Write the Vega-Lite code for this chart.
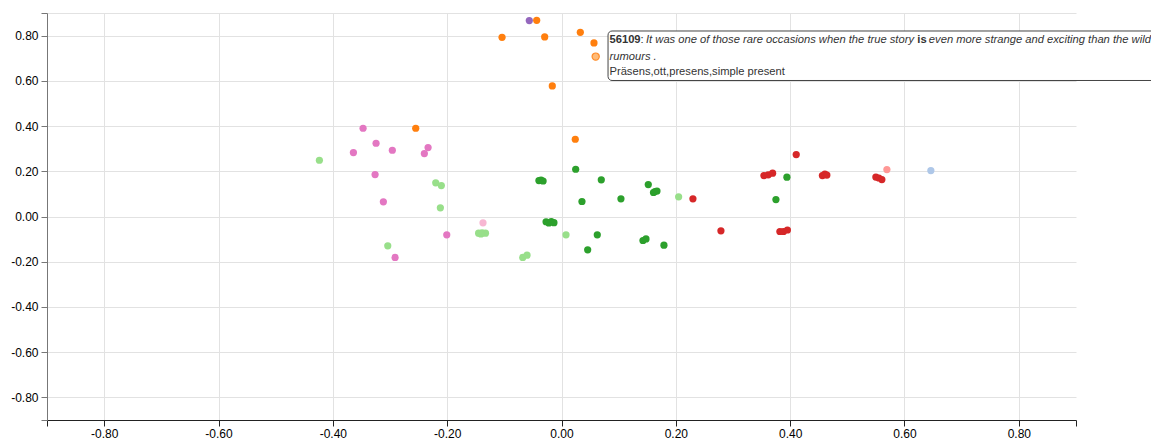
{
  "$schema": "https://vega.github.io/schema/vega-lite/v6.json",
  "width": 1029,
  "height": 407,
  "autosize": {"type": "none"},
  "padding": {"left": 47, "top": 13, "right": 75, "bottom": 19},
  "background": "white",
  "config": {"view": {"stroke": null}},
  "datasets": {
    "points": [
      {"x": -0.0563, "y": 0.8663, "g": "E"},
      {"x": -0.0434, "y": 0.8676, "g": "B"},
      {"x": -0.104, "y": 0.7925, "g": "B"},
      {"x": -0.0294, "y": 0.794, "g": "B"},
      {"x": 0.0329, "y": 0.8146, "g": "B"},
      {"x": 0.0568, "y": 0.7677, "g": "B"},
      {"x": -0.0161, "y": 0.5777, "g": "B"},
      {"x": -0.255, "y": 0.3903, "g": "B"},
      {"x": 0.0241, "y": 0.3417, "g": "B"},
      {"x": -0.3471, "y": 0.3903, "g": "G"},
      {"x": -0.3244, "y": 0.324, "g": "G"},
      {"x": -0.364, "y": 0.2829, "g": "G"},
      {"x": -0.2959, "y": 0.293, "g": "G"},
      {"x": -0.2334, "y": 0.305, "g": "G"},
      {"x": -0.2399, "y": 0.2785, "g": "G"},
      {"x": -0.3261, "y": 0.1856, "g": "G"},
      {"x": -0.3116, "y": 0.065, "g": "G"},
      {"x": -0.2007, "y": -0.0809, "g": "G"},
      {"x": -0.2911, "y": -0.1812, "g": "G"},
      {"x": -0.1373, "y": -0.0278, "g": "H"},
      {"x": -0.4235, "y": 0.2488, "g": "D"},
      {"x": -0.22, "y": 0.149, "g": "D"},
      {"x": -0.2102, "y": 0.137, "g": "D"},
      {"x": -0.2119, "y": 0.0385, "g": "D"},
      {"x": -0.3039, "y": -0.1295, "g": "D"},
      {"x": -0.145, "y": -0.0738, "g": "D"},
      {"x": -0.139, "y": -0.072, "g": "D"},
      {"x": -0.133, "y": -0.0738, "g": "D"},
      {"x": -0.141, "y": -0.077, "g": "D"},
      {"x": 0.0079, "y": -0.0809, "g": "D"},
      {"x": -0.0678, "y": -0.1812, "g": "D"},
      {"x": -0.0603, "y": -0.171, "g": "D"},
      {"x": 0.2049, "y": 0.0871, "g": "D"},
      {"x": 0.0248, "y": 0.209, "g": "C"},
      {"x": -0.0395, "y": 0.159, "g": "C"},
      {"x": -0.0358, "y": 0.161, "g": "C"},
      {"x": -0.0322, "y": 0.157, "g": "C"},
      {"x": 0.0696, "y": 0.1622, "g": "C"},
      {"x": 0.0358, "y": 0.0663, "g": "C"},
      {"x": 0.104, "y": 0.0782, "g": "C"},
      {"x": -0.027, "y": -0.0232, "g": "C"},
      {"x": -0.0222, "y": -0.0282, "g": "C"},
      {"x": -0.0178, "y": -0.0222, "g": "C"},
      {"x": -0.0132, "y": -0.0272, "g": "C"},
      {"x": 0.0626, "y": -0.0809, "g": "C"},
      {"x": 0.0458, "y": -0.1472, "g": "C"},
      {"x": 0.1518, "y": 0.1414, "g": "C"},
      {"x": 0.1609, "y": 0.1061, "g": "C"},
      {"x": 0.1635, "y": 0.1105, "g": "C"},
      {"x": 0.167, "y": 0.1127, "g": "C"},
      {"x": 0.1425, "y": -0.1061, "g": "C"},
      {"x": 0.1478, "y": -0.0994, "g": "C"},
      {"x": 0.1792, "y": -0.1268, "g": "C"},
      {"x": 0.3943, "y": 0.1737, "g": "C"},
      {"x": 0.3751, "y": 0.0751, "g": "C"},
      {"x": 0.4106, "y": 0.274, "g": "F"},
      {"x": 0.3541, "y": 0.1812, "g": "F"},
      {"x": 0.3616, "y": 0.1843, "g": "F"},
      {"x": 0.3693, "y": 0.1914, "g": "F"},
      {"x": 0.4564, "y": 0.1812, "g": "F"},
      {"x": 0.4607, "y": 0.1878, "g": "F"},
      {"x": 0.4642, "y": 0.1834, "g": "F"},
      {"x": 0.5499, "y": 0.1746, "g": "F"},
      {"x": 0.5552, "y": 0.1702, "g": "F"},
      {"x": 0.5604, "y": 0.1635, "g": "F"},
      {"x": 0.2299, "y": 0.0782, "g": "F"},
      {"x": 0.2789, "y": -0.0632, "g": "F"},
      {"x": 0.382, "y": -0.0663, "g": "F"},
      {"x": 0.3882, "y": -0.0663, "g": "F"},
      {"x": 0.3952, "y": -0.0597, "g": "F"},
      {"x": 0.5692, "y": 0.2077, "g": "I"},
      {"x": 0.6461, "y": 0.2033, "g": "J"},
      {"x": 0.0598, "y": 0.7072, "g": "K", "hl": true}
    ],
    "box": [
      {"x": 0.0814, "x2": 1.1, "y": 0.8204, "y2": 0.6015}
    ],
    "tip": [
      {"x": 0.0839, "y": 0.769, "text": "56109", "s": "bold"},
      {"x": 0.1383, "y": 0.769, "text": ":", "s": "normal"},
      {"x": 0.1478, "y": 0.769, "text": "It was one of those rare occasions when the true story", "s": "italic"},
      {"x": 0.6225, "y": 0.769, "text": "is", "s": "bold"},
      {"x": 0.6426, "y": 0.769, "text": "even more strange and exciting than the wild", "s": "italic"},
      {"x": 0.0839, "y": 0.6939, "text": "rumours .", "s": "italic"},
      {"x": 0.0839, "y": 0.6245, "text": "Präsens,ott,presens,simple present", "s": "normal"}
    ]
  },
  "encoding": {
    "x": {
      "field": "x",
      "type": "quantitative",
      "scale": {"domain": [-0.9, 0.9], "nice": false, "zero": false},
      "axis": {
        "title": null,
        "values": [-0.9, -0.8, -0.6, -0.4, -0.2, 0, 0.2, 0.4, 0.6, 0.8, 0.9],
        "labelExpr": "abs(datum.value) > 0.85 ? '' : (datum.value < -0.001 ? '-' : '') + format(abs(datum.value), '.2f')",
        "gridOpacity": {"condition": {"test": "abs(datum.value) > 0.85", "value": 0}, "value": 1},
        "gridColor": "#e2e2e2",
        "tickSize": 6,
        "domainColor": "#222",
        "tickColor": "#222",
        "labelFont": "Liberation Sans",
        "labelFontSize": 12,
        "labelColor": "#000",
        "labelFlush": false,
        "labelOverlap": false,
        "labelPadding": 2
      }
    },
    "y": {
      "field": "y",
      "type": "quantitative",
      "scale": {"domain": [-0.9, 0.9], "nice": false, "zero": false},
      "axis": {
        "title": null,
        "values": [-0.9, -0.8, -0.6, -0.4, -0.2, 0, 0.2, 0.4, 0.6, 0.8, 0.9],
        "labelExpr": "abs(datum.value) > 0.85 ? '' : (datum.value < -0.001 ? '-' : '') + format(abs(datum.value), '.2f')",
        "gridOpacity": {"condition": {"test": "datum.value < -0.85", "value": 0}, "value": 1},
        "gridColor": "#e2e2e2",
        "tickSize": 6,
        "domainColor": "#777",
        "tickColor": "#777",
        "labelFont": "Liberation Sans",
        "labelFontSize": 12,
        "labelColor": "#000",
        "labelFlush": false,
        "labelOverlap": false,
        "labelPadding": 3
      }
    }
  },
  "layer": [
    {
      "data": {"name": "points"},
      "mark": {"type": "circle", "opacity": 1, "size": 52, "stroke": "#ff8c2a"},
      "encoding": {
        "color": {
          "field": "g",
          "type": "nominal",
          "scale": {
            "domain": ["B", "C", "D", "E", "F", "G", "H", "I", "J", "K"],
            "range": ["#ff7f0e", "#2ca02c", "#98df8a", "#9467bd", "#d62728", "#e377c2", "#f7b6d2", "#ff9896", "#aec7e8", "#ffbb78"]
          },
          "legend": null
        },
        "strokeWidth": {"condition": {"test": "datum.hl === true", "value": 1.2}, "value": 0}
      }
    },
    {
      "data": {"name": "box"},
      "mark": {"type": "rect", "fill": "white", "stroke": "#444", "strokeWidth": 1, "cornerRadius": 4},
      "encoding": {"x2": {"field": "x2"}, "y2": {"field": "y2"}}
    },
    {
      "data": {"name": "tip"},
      "transform": [{"filter": "datum.s === 'bold'"}],
      "mark": {"type": "text", "align": "left", "baseline": "alphabetic", "font": "Liberation Sans", "fontSize": 11.2, "fontWeight": "bold", "color": "#333"},
      "encoding": {"text": {"field": "text"}}
    },
    {
      "data": {"name": "tip"},
      "transform": [{"filter": "datum.s === 'normal'"}],
      "mark": {"type": "text", "align": "left", "baseline": "alphabetic", "font": "Liberation Sans", "fontSize": 11.2, "color": "#333"},
      "encoding": {"text": {"field": "text"}}
    },
    {
      "data": {"name": "tip"},
      "transform": [{"filter": "datum.s === 'italic'"}],
      "mark": {"type": "text", "align": "left", "baseline": "alphabetic", "font": "Liberation Sans", "fontSize": 11.2, "fontStyle": "italic", "color": "#333"},
      "encoding": {"text": {"field": "text"}}
    }
  ]
}
